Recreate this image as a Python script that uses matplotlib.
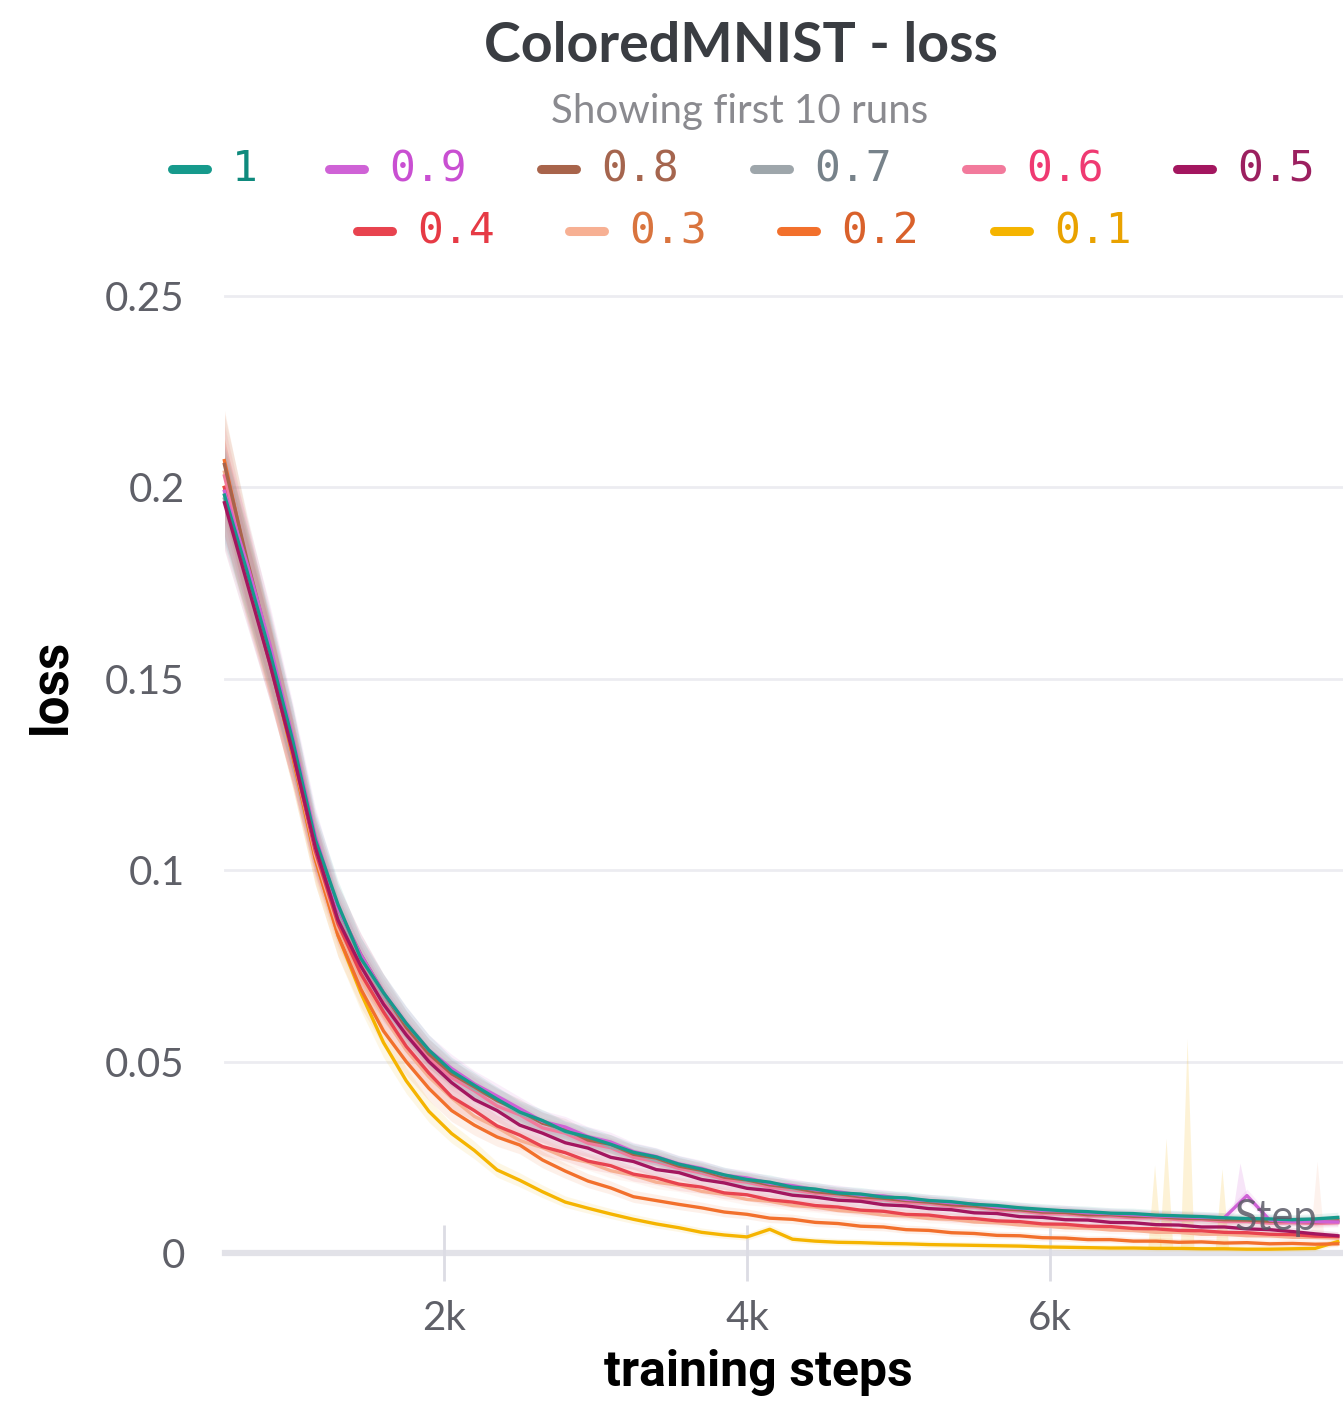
import matplotlib
matplotlib.use("Agg")
import matplotlib.pyplot as plt
from matplotlib.lines import Line2D
import numpy as np

# ---------------- data ----------------
steps = [550, 700, 850, 1000, 1150, 1300, 1450, 1600, 1750, 1900,
         2050, 2200, 2350, 2500, 2650, 2800, 2950, 3100, 3250, 3400,
         3550, 3700, 3850, 4000, 4150, 4300, 4450, 4600, 4750, 4900,
         5050, 5200, 5350, 5500, 5650, 5800, 5950, 6100, 6250, 6400,
         6550, 6700, 6850, 7000, 7150, 7300, 7450, 7600, 7750, 7900]

run_labels = ["1", "0.9", "0.8", "0.7", "0.6", "0.5", "0.4", "0.3", "0.2", "0.1"]

loss_1 = [0.198, 0.178, 0.157, 0.134, 0.108, 0.091, 0.077, 0.068, 0.060, 0.053,
          0.0475, 0.0438, 0.0402, 0.0368, 0.0346, 0.0318, 0.0303, 0.0284, 0.0263, 0.0251,
          0.0232, 0.0219, 0.0204, 0.0192, 0.0185, 0.0172, 0.0167, 0.0157, 0.0154, 0.0146,
          0.0144, 0.0137, 0.0134, 0.0127, 0.0124, 0.0118, 0.0114, 0.0110, 0.0108, 0.0104,
          0.0103, 0.0099, 0.0097, 0.0095, 0.0092, 0.0090, 0.0089, 0.0087, 0.0089, 0.0093]
loss_09 = [0.199, 0.180, 0.159, 0.135, 0.109, 0.090, 0.078, 0.068, 0.060, 0.053,
           0.0482, 0.0442, 0.0410, 0.0377, 0.0344, 0.0329, 0.0304, 0.0290, 0.0265, 0.0252,
           0.0233, 0.0221, 0.0203, 0.0196, 0.0182, 0.0176, 0.0165, 0.0160, 0.0151, 0.0149,
           0.0140, 0.0137, 0.0131, 0.0128, 0.0120, 0.0117, 0.0111, 0.0110, 0.0105, 0.0103,
           0.0100, 0.0097, 0.0095, 0.0093, 0.0092, 0.0150, 0.0086, 0.0082, 0.0082, 0.0081]
loss_08 = [0.206, 0.181, 0.158, 0.134, 0.107, 0.090, 0.078, 0.068, 0.059, 0.052,
           0.0468, 0.0434, 0.0398, 0.0372, 0.0339, 0.0324, 0.0295, 0.0284, 0.0258, 0.0248,
           0.0227, 0.0216, 0.0198, 0.0191, 0.0178, 0.0171, 0.0160, 0.0155, 0.0147, 0.0143,
           0.0137, 0.0133, 0.0126, 0.0123, 0.0116, 0.0113, 0.0107, 0.0106, 0.0100, 0.0100,
           0.0096, 0.0095, 0.0091, 0.0090, 0.0087, 0.0086, 0.0083, 0.0083, 0.0081, 0.0084]
loss_07 = [0.197, 0.177, 0.156, 0.133, 0.107, 0.089, 0.077, 0.067, 0.059, 0.052,
           0.0472, 0.0428, 0.0401, 0.0364, 0.0341, 0.0316, 0.0300, 0.0277, 0.0260, 0.0242,
           0.0229, 0.0213, 0.0201, 0.0188, 0.0180, 0.0168, 0.0163, 0.0153, 0.0150, 0.0142,
           0.0140, 0.0132, 0.0130, 0.0123, 0.0120, 0.0113, 0.0110, 0.0106, 0.0105, 0.0100,
           0.0100, 0.0096, 0.0095, 0.0091, 0.0090, 0.0087, 0.0086, 0.0084, 0.0085, 0.0087]
loss_06 = [0.203, 0.179, 0.156, 0.132, 0.106, 0.088, 0.076, 0.066, 0.058, 0.051,
           0.0458, 0.0424, 0.0384, 0.0361, 0.0327, 0.0313, 0.0287, 0.0275, 0.0250, 0.0239,
           0.0221, 0.0209, 0.0192, 0.0185, 0.0172, 0.0165, 0.0156, 0.0150, 0.0142, 0.0139,
           0.0132, 0.0129, 0.0122, 0.0120, 0.0112, 0.0110, 0.0103, 0.0102, 0.0097, 0.0096,
           0.0092, 0.0092, 0.0087, 0.0087, 0.0082, 0.0082, 0.0078, 0.0079, 0.0077, 0.0079]
loss_05 = [0.196, 0.175, 0.154, 0.131, 0.106, 0.087, 0.075, 0.065, 0.057, 0.050,
           0.0445, 0.0401, 0.0372, 0.0334, 0.0313, 0.0288, 0.0274, 0.0250, 0.0239, 0.0218,
           0.0210, 0.0192, 0.0183, 0.0169, 0.0163, 0.0151, 0.0146, 0.0138, 0.0135, 0.0126,
           0.0123, 0.0116, 0.0113, 0.0105, 0.0103, 0.0095, 0.0093, 0.0087, 0.0086, 0.0080,
           0.0079, 0.0074, 0.0073, 0.0068, 0.0068, 0.0063, 0.0061, 0.0056, 0.0050, 0.0045]
loss_04 = [0.200, 0.176, 0.154, 0.131, 0.105, 0.086, 0.073, 0.063, 0.054, 0.047,
           0.0408, 0.0372, 0.0332, 0.0308, 0.0278, 0.0262, 0.0240, 0.0228, 0.0206, 0.0196,
           0.0180, 0.0172, 0.0157, 0.0152, 0.0139, 0.0133, 0.0124, 0.0120, 0.0112, 0.0109,
           0.0101, 0.0099, 0.0092, 0.0090, 0.0084, 0.0082, 0.0076, 0.0075, 0.0070, 0.0069,
           0.0064, 0.0063, 0.0059, 0.0058, 0.0054, 0.0053, 0.0049, 0.0048, 0.0044, 0.0043]
loss_03 = [0.204, 0.178, 0.155, 0.131, 0.104, 0.085, 0.072, 0.062, 0.053, 0.046,
           0.0405, 0.0357, 0.0328, 0.0294, 0.0275, 0.0250, 0.0237, 0.0215, 0.0203, 0.0185,
           0.0177, 0.0161, 0.0153, 0.0140, 0.0135, 0.0124, 0.0120, 0.0111, 0.0107, 0.0099,
           0.0097, 0.0090, 0.0088, 0.0081, 0.0079, 0.0073, 0.0071, 0.0066, 0.0065, 0.0060,
           0.0059, 0.0054, 0.0054, 0.0049, 0.0049, 0.0045, 0.0045, 0.0041, 0.0041, 0.0039]
loss_02 = [0.207, 0.180, 0.155, 0.130, 0.103, 0.083, 0.069, 0.058, 0.050, 0.043,
           0.0372, 0.0334, 0.0303, 0.0282, 0.0243, 0.0214, 0.0188, 0.0170, 0.0147, 0.0137,
           0.0127, 0.0118, 0.0107, 0.0101, 0.0091, 0.0088, 0.0080, 0.0077, 0.0070, 0.0068,
           0.0061, 0.0059, 0.0053, 0.0051, 0.0046, 0.0045, 0.0040, 0.0039, 0.0035, 0.0035,
           0.0031, 0.0031, 0.0028, 0.0029, 0.0026, 0.0027, 0.0024, 0.0025, 0.0023, 0.0024]
loss_01 = [0.200, 0.177, 0.155, 0.130, 0.103, 0.083, 0.068, 0.055, 0.045, 0.037,
           0.0312, 0.0268, 0.0217, 0.0190, 0.0160, 0.0133, 0.0117, 0.0102, 0.0088, 0.0076,
           0.0066, 0.0054, 0.0047, 0.0042, 0.0062, 0.0036, 0.0031, 0.0028, 0.0027, 0.0025,
           0.0024, 0.0022, 0.0021, 0.0020, 0.0019, 0.0018, 0.0016, 0.0015, 0.0014, 0.0013,
           0.0013, 0.0012, 0.0012, 0.0011, 0.0011, 0.0010, 0.0010, 0.0011, 0.0012, 0.0030]

# envelope spikes (max of the shaded min/max band) visible in the chart
spike_runs = ["0.1", "0.1", "0.1", "0.1", "0.9", "0.3"]
spike_steps = [6690, 6766, 6905, 7135, 7254, 7763]
spike_tops = [0.023, 0.030, 0.056, 0.022, 0.0235, 0.024]

series = [loss_1, loss_09, loss_08, loss_07, loss_06, loss_05, loss_04, loss_03, loss_02, loss_01]

line_colors = ["#169a8c", "#cf62d6", "#a8644b", "#9ea6ab", "#f27a9c",
               "#a3165f", "#e8434f", "#f7b093", "#f2702c", "#f5b400"]
text_colors = ["#0f8a7d", "#c94fd2", "#a5654e", "#77828a", "#ef3a72",
               "#9c2060", "#e63a45", "#d9743e", "#d9612b", "#e9a200"]

y_ticks = [0, 0.05, 0.1, 0.15, 0.2, 0.25]
y_ticklabels = ["0", "0.05", "0.1", "0.15", "0.2", "0.25"]
x_ticks = [2000, 4000, 6000]
x_ticklabels = ["2k", "4k", "6k"]

# ---------------- figure ----------------
W, H = 1343, 1401
fig = plt.figure(figsize=(W / 100, H / 100), dpi=100)
fig.patch.set_facecolor("white")

ax_left, ax_right = 225, 1343
ax_top, ax_bot = 296, 1253
ax = fig.add_axes([ax_left / W, 1 - ax_bot / H, (ax_right - ax_left) / W, (ax_bot - ax_top) / H])
ax.set_xlim(554, 7934)
ax.set_ylim(0, 0.25)

for s in ax.spines.values():
    s.set_visible(False)

# grid
for yt in y_ticks[1:]:
    ax.axhline(yt, color="#ececf1", lw=2.0, zorder=0, clip_on=False)
ax.axhline(0, color="#e2e2e8", lw=4.5, zorder=0.5, clip_on=False)

st = np.array(steps)
order = list(range(len(series)))[::-1]
for i in order:
    v = np.array(series[i])
    ax.fill_between(st, v * 0.94 - 0.0006, v * 1.06 + 0.0008, color=line_colors[i],
                    alpha=0.10, lw=0, zorder=1)

for run, sx, top in zip(spike_runs, spike_steps, spike_tops):
    i = run_labels.index(run)
    base = np.interp([sx - 45, sx, sx + 45], st, series[i])
    ax.fill_between([sx - 45, sx, sx + 45], [base[0], base[1], base[2]], [base[0], top, base[2]],
                    color=line_colors[i], alpha=0.16, lw=0, zorder=1)

for i in order:
    z = 3 if run_labels[i] != "0.5" else 3.5
    ax.plot(steps, series[i], color=line_colors[i], lw=2.4, zorder=z,
            solid_joinstyle="round", clip_on=False)

# ticks
ax.set_yticks(y_ticks)
ax.set_yticklabels(y_ticklabels)
ax.set_xticks(x_ticks)
ax.set_xticklabels(x_ticklabels)
ax.tick_params(axis="y", length=0, pad=29, labelsize=29, labelcolor="#5f6068")
ax.tick_params(axis="x", direction="inout", length=40, width=2, color="#dcdce4",
               pad=14, labelsize=29, labelcolor="#5f6068")
for lab in ax.get_xticklabels() + ax.get_yticklabels():
    lab.set_fontfamily("Lato")

ax.text(7221, 0.0091, "Step", fontsize=30, fontfamily="Lato", color="#5a5a66",
        alpha=0.85, va="center", ha="left", zorder=5)

fig.text(758 / W, 1 - 1372 / H, "training steps", fontsize=36, fontweight="bold",
         fontfamily="Roboto", color="black", ha="center", va="center")
fig.text(51 / W, 1 - 686 / H, "loss", rotation=90, fontsize=37, fontweight="bold",
         fontfamily="Roboto", color="black", ha="center", va="center")

# title / subtitle
fig.text(741 / W, 1 - 46 / H, "ColoredMNIST - loss", fontsize=40, fontweight="bold",
         fontfamily="Lato", color="#3a3d42", ha="center", va="center")
fig.text(740 / W, 1 - 111 / H, "Showing first 10 runs", fontsize=29,
         fontfamily="Lato", color="#8a8a8f", ha="center", va="center")

# legend (manual, two centered rows)
row_y = [169, 231]
handle_x = [168, 325, 537, 750, 962, 1173, 353, 565, 777, 990]
for i, lab in enumerate(run_labels):
    r = 0 if i < 6 else 1
    hx = handle_x[i]
    yy = 1 - row_y[r] / H
    fig.add_artist(Line2D([(hx + 4) / W, (hx + 39) / W], [yy, yy], color=line_colors[i],
                          lw=6.5, solid_capstyle="round", transform=fig.transFigure))
    fig.text((hx + 64) / W, yy, lab, fontsize=31, fontfamily="DejaVu Sans Mono",
             color=text_colors[i], ha="left", va="center")

fig.savefig("out.png", dpi=100, facecolor="white")
